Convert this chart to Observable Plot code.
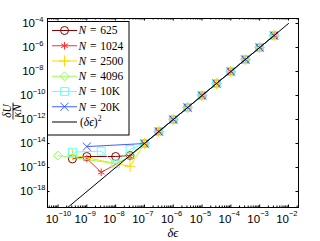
<!DOCTYPE html>
<html><head><meta charset="utf-8">
<script src="https://cdn.jsdelivr.net/npm/d3@7"></script>
<script src="https://cdn.jsdelivr.net/npm/@observablehq/plot@0.6"></script>
<style>body{margin:0;background:#fff}#c{width:320px;height:241px}</style>
</head><body><div id="c"></div>
<script>
// ---- data ----
const seriesLabels = ["625", "1024", "2500", "4096", "10K", "20K"];
const seriesColors = ["#8b0000", "#ff3030", "#ffd800", "#9cff5a", "#66ffff", "#3f5fff"];
const seriesSymbols = ["circle", "asterisk", "plus", "diamond2", "square2", "times"];
const seriesR = [4, 3.6, 3.6, 4, 5, 3.8];
// converged regime (shared by all N)
const epsHigh = [1e-7, 3.16e-7, 1e-6, 3.16e-6, 1e-5, 3.16e-5, 1e-4, 3.16e-4, 1e-3, 3.16e-3];
const uHigh = [1e-14, 1e-13, 1e-12, 1e-11, 1e-10, 1e-9, 1e-8, 1e-7, 1e-6, 1e-5];
// small-eps regime, per N
const eps625 = [3.16e-10, 1e-9, 1e-8, 3.16e-8];
const u625 = [5.2e-16, 8.3e-16, 8.3e-16, 1e-15];
const eps1024 = [1e-9, 3.16e-9, 3.16e-8];
const u1024 = [5.6e-16, 4e-17, 8.3e-16];
const eps2500 = [3.16e-10, 3.16e-8];
const u2500 = [1.12e-15, 1.26e-16];
const eps4096 = [1e-10, 1e-8, 3.16e-8];
const u4096 = [1e-15, 2.1e-16, 8.9e-16];
const eps10K = [3.16e-10, 3.16e-9, 1e-8, 3.16e-8];
const u10K = [1.9e-15, 2.3e-15, 2e-16, 3.2e-15];
const eps20K = [1e-9];
const u20K = [5.6e-15];
// reference (δϵ)^2
const refEps = [1e-10, 1e-2];
const refU = [1e-20, 1e-4];
// ticks
const xTicks = [1e-10, 1e-9, 1e-8, 1e-7, 1e-6, 1e-5, 1e-4, 1e-3, 1e-2];
const xExp = ["\u221210", "\u22129", "\u22128", "\u22127", "\u22126", "\u22125", "\u22124", "\u22123", "\u22122"];
const yTicks = [1e-18, 1e-16, 1e-14, 1e-12, 1e-10, 1e-8, 1e-6, 1e-4];
const yExp = ["\u221218", "\u221216", "\u221214", "\u221212", "\u221210", "\u22128", "\u22126", "\u22124"];

// ---- build ----
const lowEps = [eps625, eps1024, eps2500, eps4096, eps10K, eps20K];
const lowU = [u625, u1024, u2500, u4096, u10K, u20K];
const series = seriesLabels.map((n, i) => {
  const rows = lowEps[i].map((e, j) => ({x: e, y: lowU[i][j]}))
    .concat(epsHigh.map((e, j) => ({x: e, y: uHigh[j]})));
  return {n, color: seriesColors[i], symbol: seriesSymbols[i], r: seriesR[i], rows};
});
const refRows = refEps.map((e, j) => ({x: e, y: refU[j]}));

const X0 = 10 ** -10.365, X1 = 10 ** -1.652, Y0 = 10 ** -19.33, Y1 = 10 ** -3.58;
const pxX = 28.75, pxY = 12; // px per decade (for inward tick length)
const minorX = [];
for (let k = -11; k <= -2; k++) for (let m = 2; m <= 9; m++) { const v = m * 10 ** k; if (v > X0 && v < X1) minorX.push(v); }

const font = "Liberation Sans, Arial, sans-serif";
const marks = [];
// ticks (inward)
const tM = 2.5, tm = 1.5;
marks.push(Plot.ruleX(xTicks, {x: d => d, y1: Y0, y2: Y0 * 10 ** (tM / pxY), stroke: "#000"}));
marks.push(Plot.ruleX(xTicks, {x: d => d, y1: Y1, y2: Y1 / 10 ** (tM / pxY), stroke: "#000"}));
marks.push(Plot.ruleX(minorX, {x: d => d, y1: Y0, y2: Y0 * 10 ** (tm / pxY), stroke: "#000"}));
marks.push(Plot.ruleX(minorX, {x: d => d, y1: Y1, y2: Y1 / 10 ** (tm / pxY), stroke: "#000"}));
marks.push(Plot.ruleY(yTicks, {y: d => d, x1: X0, x2: X0 * 10 ** (tM / pxX), stroke: "#000"}));
marks.push(Plot.ruleY(yTicks, {y: d => d, x1: X1, x2: X1 / 10 ** (tM / pxX), stroke: "#000"}));
// series
for (const s of series) {
  marks.push(Plot.line(s.rows, {x: "x", y: "y", stroke: s.color, strokeWidth: 1, clip: true}));
  marks.push(Plot.dot(s.rows, {x: "x", y: "y", symbol: s.symbol, r: s.r, stroke: s.color, fill: "none", strokeWidth: 1, clip: true}));
}
marks.push(Plot.line(refRows, {x: "x", y: "y", stroke: "#000", strokeWidth: 1, clip: true}));
marks.push(Plot.frame({stroke: "#000"}));
// tick labels
marks.push(Plot.text(xTicks, {x: d => d, frameAnchor: "bottom", text: () => "10", textAnchor: "end", lineAnchor: "bottom", dx: 0.5, dy: 15, fontSize: 11.5, fontFamily: font, fill: "#000"}));
marks.push(Plot.text(xTicks, {x: d => d, frameAnchor: "bottom", text: (d, i) => xExp[i], textAnchor: "start", lineAnchor: "bottom", dx: 0.5, dy: 8.5, fontSize: 7.5, fontFamily: font, fill: "#000"}));
const y2 = yTicks.map((d, i) => ({v: d, e: yExp[i]})).filter(o => o.e.length > 2);
const y1 = yTicks.map((d, i) => ({v: d, e: yExp[i]})).filter(o => o.e.length <= 2);
marks.push(Plot.text(y2, {y: "v", frameAnchor: "left", text: () => "10", textAnchor: "end", lineAnchor: "bottom", dx: -14.7, dy: 3.5, fontSize: 11.5, fontFamily: font, fill: "#000"}));
marks.push(Plot.text(y2, {y: "v", frameAnchor: "left", text: "e", textAnchor: "end", lineAnchor: "bottom", dx: -2, dy: -2, fontSize: 7.5, fontFamily: font, fill: "#000"}));
marks.push(Plot.text(y1, {y: "v", frameAnchor: "left", text: () => "10", textAnchor: "end", lineAnchor: "bottom", dx: -12.5, dy: 3.5, fontSize: 11.5, fontFamily: font, fill: "#000"}));
marks.push(Plot.text(y1, {y: "v", frameAnchor: "left", text: "e", textAnchor: "end", lineAnchor: "bottom", dx: -4, dy: -2, fontSize: 7.5, fontFamily: font, fill: "#000"}));

const chart = Plot.plot({
  width: 320, height: 241,
  marginLeft: 47, marginRight: 22, marginTop: 18, marginBottom: 34,
  x: {type: "log", domain: [X0, X1], axis: null},
  y: {type: "log", domain: [Y0, Y1], axis: null},
  style: {background: "#fff", overflow: "visible"},
  marks
});
document.getElementById("c").appendChild(chart);

// ---- axis titles & legend ----
const svg = d3.select(chart);
const serif = "Liberation Serif, Times New Roman, serif";
// x label
svg.append("text").attr("x", 173).attr("y", 237).attr("text-anchor", "middle")
  .attr("font-family", serif).attr("font-size", 12.5).attr("font-style", "italic").text("\u03b4\u03f5");
// y label (fraction, rotated)
const gy = svg.append("g").attr("transform", "translate(13,111) rotate(-90)")
  .attr("font-family", serif).attr("font-size", 11.5).attr("font-style", "italic");
gy.append("text").attr("y", -1.6).attr("text-anchor", "middle").text("\u03b4U");
gy.append("line").attr("x1", -8.5).attr("x2", 8.5).attr("y1", 0).attr("y2", 0).attr("stroke", "#000").attr("stroke-width", 0.8);
gy.append("text").attr("y", 8).attr("text-anchor", "middle").text("\u03baN");
// legend
const lg = svg.append("g").attr("text-anchor", "start");
lg.append("rect").attr("x", 47.5).attr("y", 21.5).attr("width", 81.5).attr("height", 113.5)
  .attr("fill", "#fff").attr("stroke", "#000").attr("stroke-width", 1);
const symMap = {circle: d3.symbolCircle, asterisk: d3.symbolAsterisk, plus: d3.symbolPlus, diamond2: d3.symbolDiamond2, square2: d3.symbolSquare2, times: d3.symbolTimes};
const rowY = i => 30.5 + i * 15.25;
series.forEach((s, i) => {
  const y = rowY(i);
  lg.append("line").attr("x1", 52).attr("x2", 77).attr("y1", y).attr("y2", y).attr("stroke", s.color);
  lg.append("path").attr("transform", `translate(64.5,${y})`)
    .attr("d", d3.symbol(symMap[s.symbol], Math.PI * s.r * s.r)()).attr("fill", "none").attr("stroke", s.color);
  const t = lg.append("text").attr("x", 78.5).attr("y", y + 3.8).attr("text-anchor", "start")
    .attr("font-family", serif).attr("font-size", 11.5);
  t.append("tspan").attr("font-style", "italic").text("N");
  t.append("tspan").text("\u2004=\u2004" + s.n);
});
{
  const y = rowY(6);
  lg.append("line").attr("x1", 52).attr("x2", 77).attr("y1", y).attr("y2", y).attr("stroke", "#000");
  const t = lg.append("text").attr("x", 80).attr("y", y + 3.8).attr("text-anchor", "start")
    .attr("font-family", serif).attr("font-size", 11.5);
  t.append("tspan").text("(");
  t.append("tspan").attr("font-style", "italic").text("\u03b4\u03f5");
  t.append("tspan").text(")");
  t.append("tspan").attr("font-size", 7.5).attr("dy", -4.5).text("2");
}
</script></body></html>
